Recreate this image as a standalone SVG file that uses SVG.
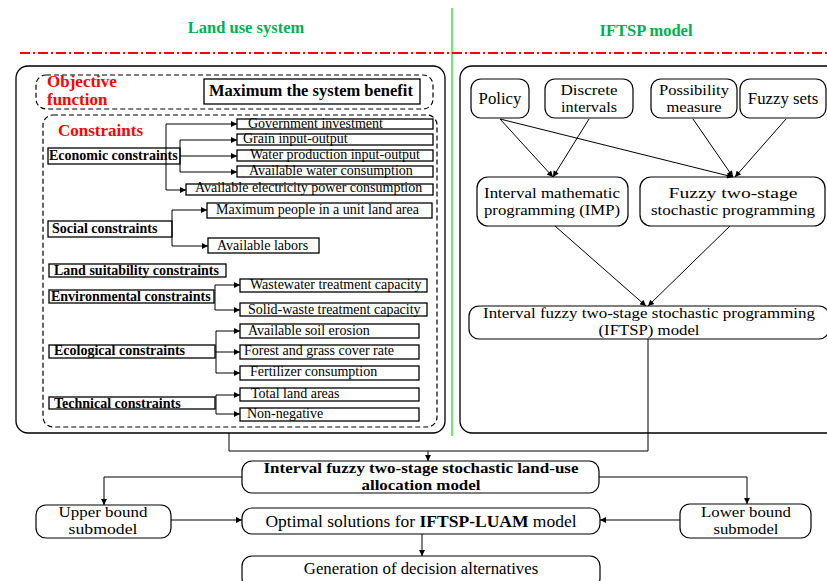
<svg xmlns="http://www.w3.org/2000/svg" width="827" height="581" viewBox="0 0 827 581">
<defs>
<marker id="ah" viewBox="0 0 10 10" refX="10" refY="5" markerWidth="7" markerHeight="6" markerUnits="userSpaceOnUse" orient="auto"><path d="M0,0 L10,5 L0,10 z" fill="#000"/></marker>
</defs>
<style>
text{font-family:"Liberation Serif","Times New Roman","DejaVu Serif",serif;fill:#000}
.b{font-weight:bold}
.t{font-size:16.5px;font-weight:bold;fill:#00b050;text-anchor:middle}
.red{fill:#ff0000;font-weight:bold;font-size:17px}
.box{fill:#fff;stroke:#000;stroke-width:1.3}
.rbox{fill:#fff;stroke:#000;stroke-width:1.2}
.dash{fill:none;stroke:#000;stroke-width:1.2;stroke-dasharray:5 3}
.outer{fill:none;stroke:#000;stroke-width:1.3}
.s{font-size:14px}
.cat{font-size:14px;font-weight:bold}
.m{font-size:16.8px;text-anchor:middle}
.m2{font-size:15px;text-anchor:middle}
.c{stroke:#000;stroke-width:1;fill:none}
.ca{stroke:#000;stroke-width:1;fill:none;marker-end:url(#ah)}
</style>
<g id="titles">
<text class="t" x="246" y="33">Land use system</text>
<text class="t" x="646" y="36">IFTSP model</text>
<line x1="452" y1="8" x2="452" y2="436" stroke="#22dd22" stroke-width="1.3"/>
<line x1="20" y1="53" x2="827" y2="53" stroke="#ff0000" stroke-width="2" stroke-dasharray="10 3 2 3"/>
</g>
<g id="landuse-panel">
<rect class="outer" x="16" y="66" width="429" height="367" rx="12"/>
</g>
<g id="objective">
<rect class="dash" x="36" y="75" width="397" height="34" rx="10"/>
<text class="red" x="47" y="87">Objective</text>
<text class="red" x="47" y="105">function</text>
<rect class="box" x="204" y="79" width="216" height="25"/>
<text class="b" x="209" y="96" font-size="16.5">Maximum the system benefit</text>
</g>
<g id="constraints">
<rect class="dash" x="43" y="115" width="394" height="312" rx="10"/>
<text class="red" x="58" y="136">Constraints</text>
</g>
<g id="economic">
<rect class="box" x="48" y="148" width="132" height="16"/>
<text class="cat" x="49" y="160">Economic constraints</text>
<rect class="box" x="237" y="119" width="196" height="10"/><text class="s" x="248" y="127.5">Government investment</text>
<rect class="box" x="237" y="134" width="196" height="11"/><text class="s" x="243" y="143">Grain input-output</text>
<rect class="box" x="237" y="150" width="196" height="11"/><text class="s" x="250" y="158.5">Water production input-output</text>
<rect class="box" x="237" y="166" width="196" height="11"/><text class="s" x="249" y="174.5">Available water consumption</text>
<rect class="box" x="186" y="184" width="247" height="11"/><text class="s" x="195" y="191.5">Available electricity power consumption</text>
</g>
<g id="social">
<rect class="box" x="48" y="221" width="124" height="16"/>
<text class="cat" x="52" y="233">Social constraints</text>
<rect class="box" x="207" y="203" width="225" height="15"/><text class="s" x="216" y="214">Maximum people in a unit land area</text>
<rect class="box" x="208" y="238" width="111" height="15"/><text class="s" x="217" y="249.5">Available labors</text>
</g>
<g id="suitability">
<rect class="box" x="49" y="264" width="177" height="13"/>
<text class="cat" x="54" y="274.5">Land suitability constraints</text>
</g>
<g id="environmental">
<rect class="box" x="49" y="290" width="165" height="13"/>
<text class="cat" x="51" y="301">Environmental constraints</text>
<rect class="box" x="240" y="279" width="187" height="13"/><text class="s" x="250" y="288.5">Wastewater treatment capacity</text>
<rect class="box" x="240" y="303" width="187" height="13"/><text class="s" x="248" y="313.5">Solid-waste treatment capacity</text>
</g>
<g id="ecological">
<rect class="box" x="49" y="345" width="166" height="13"/>
<text class="cat" x="54" y="355">Ecological constraints</text>
<rect class="box" x="240" y="324" width="179" height="14"/><text class="s" x="248" y="334.5">Available soil erosion</text>
<rect class="box" x="240" y="345" width="179" height="14"/><text class="s" x="244" y="355">Forest and grass cover rate</text>
<rect class="box" x="240" y="366" width="179" height="14"/><text class="s" x="250" y="376">Fertilizer consumption</text>
</g>
<g id="technical">
<rect class="box" x="49" y="397" width="166" height="12"/>
<text class="cat" x="54" y="407.5">Technical constraints</text>
<rect class="box" x="240" y="388" width="179" height="13"/><text class="s" x="251" y="398">Total land areas</text>
<rect class="box" x="240" y="408" width="179" height="13"/><text class="s" x="247" y="418">Non-negative</text>
</g>
<g id="iftsp-panel">
<rect class="outer" x="460" y="66" width="380" height="367" rx="12"/>
</g>
<g id="policy"><rect class="rbox" x="471" y="79" width="58" height="39" rx="10"/><text class="m" x="500" y="104">Policy</text></g>
<g id="discrete"><rect class="rbox" x="545" y="79" width="88" height="39" rx="10"/><text class="m2" x="589" y="95" textLength="57" lengthAdjust="spacingAndGlyphs">Discrete</text><text class="m2" x="589" y="112" textLength="56" lengthAdjust="spacingAndGlyphs">intervals</text></g>
<g id="possibility"><rect class="rbox" x="651" y="79" width="86" height="39" rx="10"/><text class="m2" x="694" y="95" textLength="70" lengthAdjust="spacingAndGlyphs">Possibility</text><text class="m2" x="694" y="112" textLength="55" lengthAdjust="spacingAndGlyphs">measure</text></g>
<g id="fuzzysets"><rect class="rbox" x="740" y="79" width="86" height="39" rx="10"/><text class="m" x="783" y="104">Fuzzy sets</text></g>
<g id="imp"><rect class="rbox" x="477" y="177" width="151" height="49" rx="11"/><text class="m2" x="552" y="198" textLength="136" lengthAdjust="spacingAndGlyphs">Interval mathematic</text><text class="m2" x="552" y="215" textLength="136" lengthAdjust="spacingAndGlyphs">programming (IMP)</text></g>
<g id="ftsp"><rect class="rbox" x="640" y="177" width="185" height="49" rx="11"/><text class="m2" x="733" y="198" textLength="129" lengthAdjust="spacingAndGlyphs">Fuzzy two-stage</text><text class="m2" x="733" y="215" textLength="164" lengthAdjust="spacingAndGlyphs">stochastic programming</text></g>
<g id="iftsp"><rect class="rbox" x="469" y="306" width="360" height="33" rx="10"/><text class="m2" x="649" y="318" textLength="332" lengthAdjust="spacingAndGlyphs">Interval fuzzy two-stage stochastic programming</text><text class="m2" x="649" y="335" textLength="101" lengthAdjust="spacingAndGlyphs">(IFTSP) model</text></g>
<g id="luam"><rect class="rbox" x="242" y="461" width="357" height="32" rx="10"/><text class="b m2" x="421" y="473" textLength="315" lengthAdjust="spacingAndGlyphs">Interval fuzzy two-stage stochastic land-use</text><text class="b m2" x="421" y="490" textLength="119" lengthAdjust="spacingAndGlyphs">allocation model</text></g>
<g id="upper"><rect class="rbox" x="36" y="505" width="135" height="33" rx="10"/><text class="m2" x="103" y="517" textLength="89" lengthAdjust="spacingAndGlyphs">Upper bound</text><text class="m2" x="103" y="534" textLength="69" lengthAdjust="spacingAndGlyphs">submodel</text></g>
<g id="optimal"><rect class="rbox" x="242" y="508" width="358" height="26" rx="10"/><text x="421" y="527" font-size="17.5" text-anchor="middle">Optimal solutions for <tspan class="b">IFTSP-LUAM</tspan> model</text></g>
<g id="lower"><rect class="rbox" x="680" y="504" width="131" height="34" rx="10"/><text class="m2" x="746" y="517" textLength="90" lengthAdjust="spacingAndGlyphs">Lower bound</text><text class="m2" x="746" y="534" textLength="65" lengthAdjust="spacingAndGlyphs">submodel</text></g>
<g id="generation"><rect class="rbox" x="242" y="556" width="358" height="32" rx="10"/><text class="m" x="421" y="574">Generation of decision alternatives</text></g>
<g id="connectors">
<path class="c" d="M166,124 V190"/>
<path class="ca" d="M166,124 H237"/>
<path class="ca" d="M166,190 H186"/>
<path class="c" d="M180,140 V172"/>
<path class="ca" d="M180,140 H237"/>
<path class="ca" d="M180,156 H237"/>
<path class="ca" d="M180,172 H237"/>
<path class="c" d="M172,210 V246"/>
<path class="ca" d="M172,210 H207"/>
<path class="ca" d="M172,246 H208"/>
<path class="c" d="M215,285 V310"/>
<path class="ca" d="M215,285 H240"/>
<path class="ca" d="M215,310 H240"/>
<path class="c" d="M216,331 V373"/>
<path class="ca" d="M216,331 H240"/>
<path class="ca" d="M215,352 H240"/>
<path class="ca" d="M216,373 H240"/>
<path class="c" d="M216,395 V414"/>
<path class="ca" d="M216,395 H240"/>
<path class="ca" d="M216,414 H240"/>
<path class="ca" d="M500,119 L553,177"/>
<path class="ca" d="M589,119 L553,177"/>
<path class="ca" d="M500,119 L733,177"/>
<path class="ca" d="M693,119 L733,177"/>
<path class="ca" d="M786,119 L735,177"/>
<path class="ca" d="M555,226 L646,306"/>
<path class="ca" d="M730,226 L648,306"/>
<path class="c" d="M229,433 V451 H648 V339"/>
<path class="ca" d="M428,451 V461"/>
<path class="ca" d="M242,477 H104 V505"/>
<path class="ca" d="M599,477 H747 V504"/>
<path class="ca" d="M171,520 H242"/>
<path class="ca" d="M680,520 H600"/>
<path class="ca" d="M422,534 V556"/>
</g>
</svg>
